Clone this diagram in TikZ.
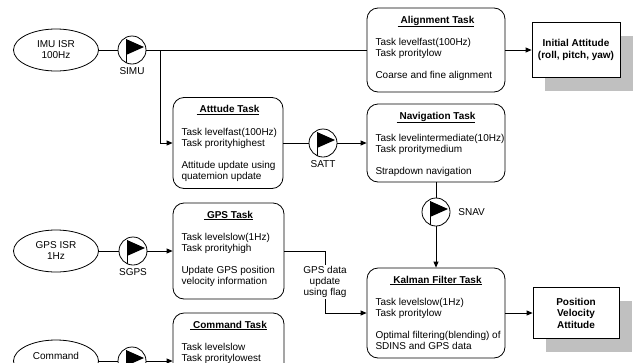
\documentclass[tikz,border=0pt]{standalone}
\usepackage{fontspec}
\setmainfont{Liberation Sans}
\usetikzlibrary{arrows.meta,shapes.geometric,shadows}
\definecolor{shadowgray}{RGB}{192,192,192}
\begin{document}
\begin{tikzpicture}[x=1pt,y=-1pt,line width=0.8pt,
  font=\fontsize{10}{11}\selectfont,
  task/.style={draw, rounded corners=11pt, inner sep=0},
  ttl/.style={anchor=base, inner sep=0, font=\bfseries\fontsize{10}{11}\selectfont},
  body/.style={anchor=north west, inner sep=0, align=left},
  isr/.style={draw, ellipse, minimum width=85pt, minimum height=42pt, inner sep=0, align=center},
  flag/.style={draw, circle, minimum size=28pt, inner sep=0,
    path picture={
      \fill[shift={(path picture bounding box.center)}] (-6,-11) -- (12,-3) -- (-6,5) -- cycle;
      \draw[shift={(path picture bounding box.center)}, line width=0.8pt] (-6,-11) -- (-6,15);}},
  lbl/.style={inner sep=0},
  arr/.style={-{Triangle[length=6pt,width=5pt]}},
  outbox/.style={draw, fill=white, inner sep=0, align=center,
    font=\bfseries\fontsize{10}{11.5}\selectfont,
    drop shadow={shadow xshift=13pt, shadow yshift=-13pt, fill=shadowgray, opacity=1}}]
\clip (0,0) rectangle (642,362);

% ISR ellipses
\node[isr] (imu) at (56,50) {IMU ISR\\100Hz};
\node[isr] (gpsisr) at (56,251) {GPS ISR\\1Hz};
\node[isr] (cmdisr) at (56,361) {Command\\ISR};

% flags
\node[flag] (simu) at (132,50) {};
\node[flag] (satt) at (323,143) {};
\node[flag] (sgps) at (133,251) {};
\node[flag] (snav) at (436,212) {};
\node[flag] (scmd) at (132,361) {};
\node[lbl] (simuL) at (132,71) {SIMU};
\node[lbl] (sattL) at (323,164) {SATT};
\node[lbl] (sgpsL) at (133,272) {SGPS};
\node[lbl, anchor=west] (snavL) at (458,212) {SNAV};

% task boxes
\node[task, minimum width=138pt, minimum height=84pt] (align) at (436,50) {};
\node[ttl] (alignT) at ([shift={(0,15.5)}]align.north) {\underline{\hspace{3pt}Alignment Task}};
\node[body] (alignB) at ([shift={(8.5,29.8)}]align.north west) {\strut Task levelfast(100Hz)\\ Task proritylow\\[11pt] Coarse and fine alignment};

\node[task, minimum width=110pt, minimum height=91pt] (att) at (228,143) {};
\node[ttl] (attT) at ([shift={(0,15.5)}]att.north) {\underline{\hspace{3pt}Atttude Task}};
\node[body] (attB) at ([shift={(8.5,29.8)}]att.north west) {\strut Task levelfast(100Hz)\\ Task prorityhighest\\[11pt] Attitude update using\\ quatemion update};

\node[task, minimum width=138pt, minimum height=78pt] (nav) at (436,143) {};
\node[ttl] (navT) at ([shift={(0,15.5)}]nav.north) {\underline{\hspace{3pt}Navigation Task}};
\node[body] (navB) at ([shift={(8.5,29.8)}]nav.north west) {\strut Task levelintermediate(10Hz)\\ Task proritymedium\\[11pt] Strapdown navigation};

\node[task, minimum width=111pt, minimum height=96pt] (gps) at (228.5,251) {};
\node[ttl] (gpsT) at ([shift={(0,15.5)}]gps.north) {\underline{\hspace{3pt}GPS Task}};
\node[body] (gpsB) at ([shift={(8.5,29.8)}]gps.north west) {\strut Task levelslow(1Hz)\\ Task prorityhigh\\[11pt] Update GPS position\\ velocity information};

\node[task, minimum width=138pt, minimum height=90pt] (kal) at (436,313) {};
\node[ttl] (kalT) at ([shift={(0,15.5)}]kal.north) {\underline{\hspace{3pt}Kalman Filter Task}};
\node[body] (kalB) at ([shift={(8.5,29.8)}]kal.north west) {\strut Task levelslow(1Hz)\\ Task proritylow\\[11pt] Optimal filtering(blending) of\\ SDINS and GPS data};

\node[task, minimum width=111pt, minimum height=107pt] (cmd) at (228.5,366.5) {};
\node[ttl] (cmdT) at ([shift={(0,15.5)}]cmd.north) {\underline{\hspace{3pt}Command Task}};
\node[body] (cmdB) at ([shift={(8.5,29.8)}]cmd.north west) {\strut Task levelslow\\ Task proritylowest};

% output boxes
\node[outbox, minimum width=88pt, minimum height=55pt] (init) at (576,50) {Initial Attitude\\(roll, pitch, yaw)};
\node[outbox, minimum width=86pt, minimum height=51pt] (pos) at (576,313) {Position\\Velocity\\Attitude};

% connectors
\coordinate (j1) at (160,50);
\draw (imu) -- (simu);
\draw (simu) -- (align);
\draw[arr] (j1) |- (att);
\draw[arr] (align) -- (init);
\draw (att) -- (satt);
\draw[arr] (satt) -- (nav);
\draw (nav) -- (snav);
\draw[arr] (snav) -- (kal);
\draw[arr] (kal) -- (pos);
\draw (gpsisr) -- (sgps);
\draw[arr] (sgps) -- (gps);
\coordinate (g1) at (325,251);
\coordinate (g2) at (325,313);
\draw[arr] (gps) -- (g1) -- (g2) -- (kal);
\node[fill=white, inner sep=1pt, align=center] (gpslbl) at (325,282) {GPS data\\update\\using flag};
\draw (cmdisr) -- (scmd);
\draw[arr] (scmd) -- (scmd -| cmd.west);
\end{tikzpicture}
\end{document}
